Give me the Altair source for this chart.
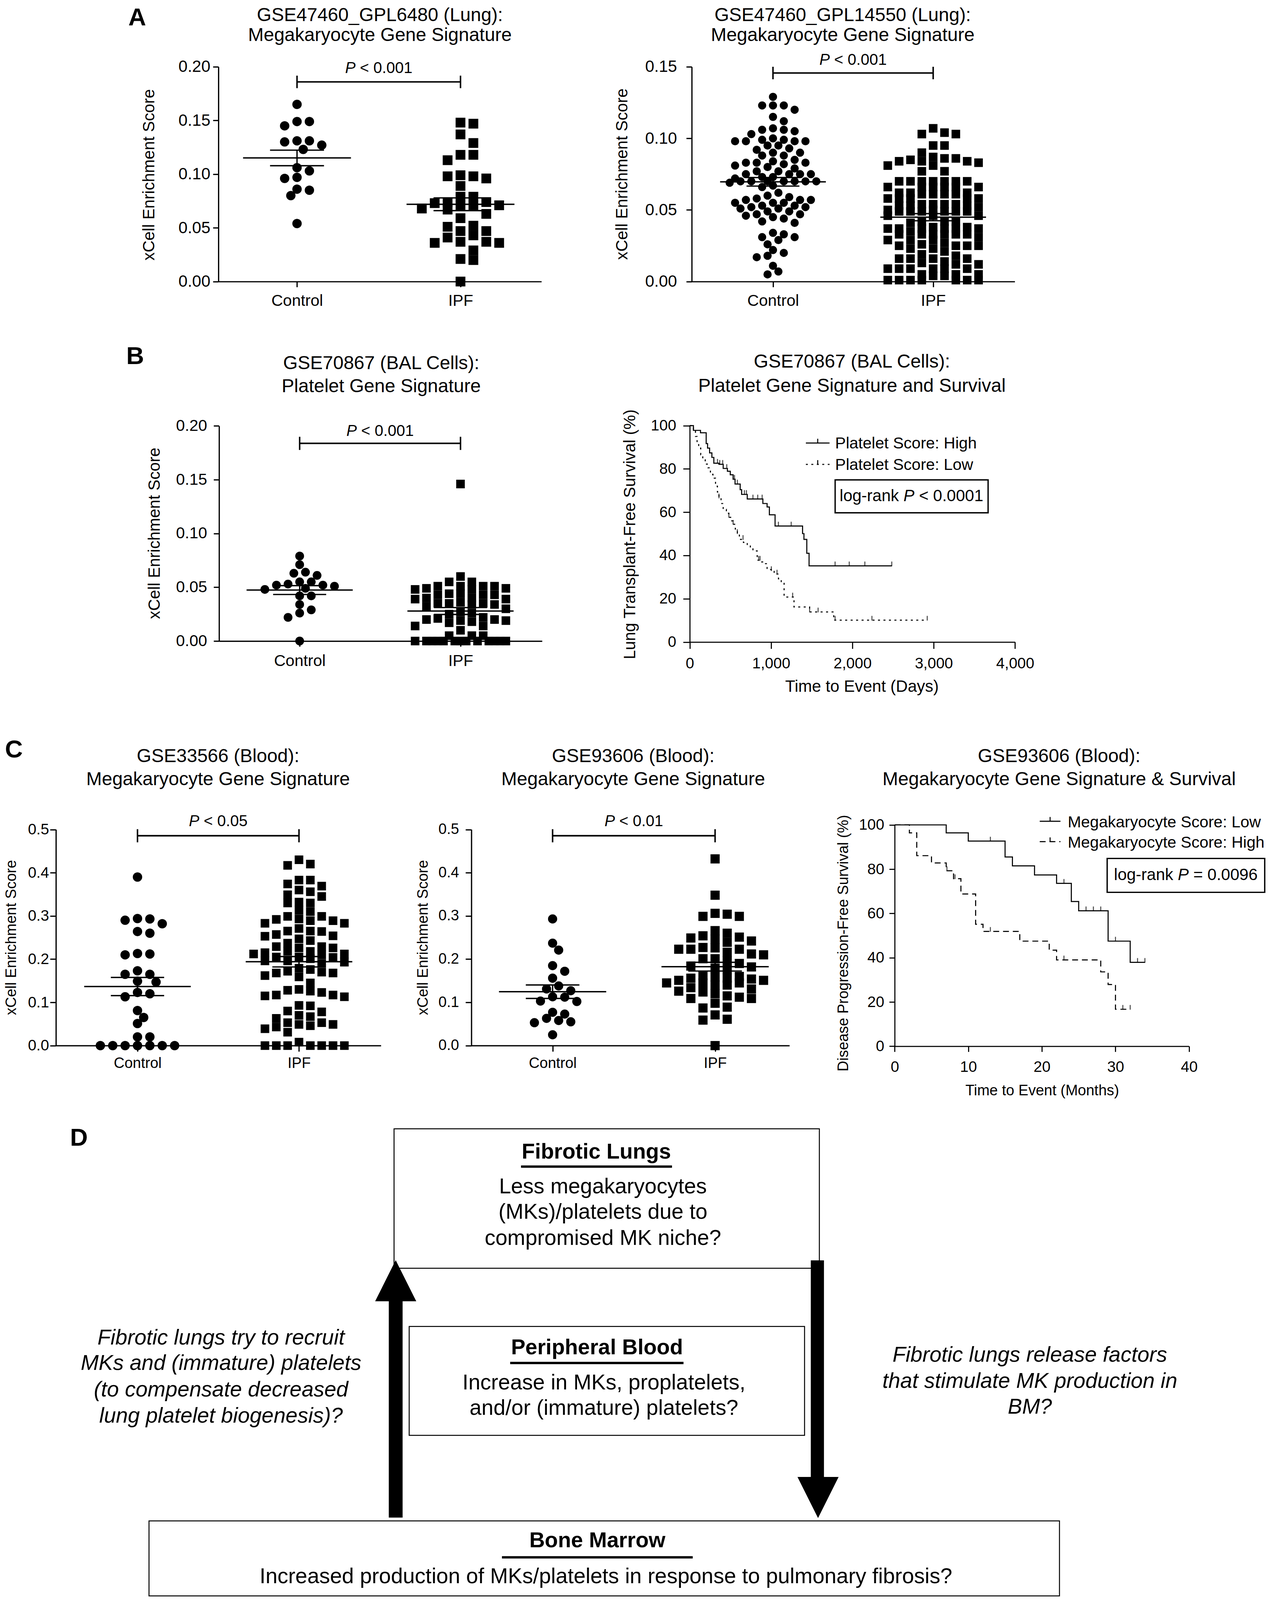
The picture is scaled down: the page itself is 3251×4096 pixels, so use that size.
import altair as alt
import numpy as np
import pandas as pd

S = 0.842
OFF = 8.0
W, H = 3235, 4080
FONT = "Liberation Sans"


def P(v):
    return v * S - OFF


# ------------------------------------------------------------------ data
GROUPS = ["Control", "IPF"]

a1_control = [0.165, 0.149, 0.149, 0.145, 0.131, 0.130, 0.131, 0.127, 0.123,
              0.103, 0.106, 0.096, 0.097, 0.085, 0.086, 0.080, 0.054]
a1_ipf = [0.148, 0.147, 0.137, 0.129, 0.118, 0.118, 0.113, 0.098, 0.096, 0.098,
          0.099, 0.089, 0.079, 0.079, 0.074, 0.070, 0.073, 0.074, 0.067, 0.068,
          0.070, 0.063, 0.071, 0.059, 0.052, 0.051, 0.047, 0.047, 0.043, 0.041,
          0.037, 0.036, 0.036, 0.037, 0.029, 0.021, 0.020, 0.000]

a2_control = [0.129, 0.123, 0.123, 0.123, 0.120, 0.115, 0.112, 0.107, 0.106, 0.105,
              0.106, 0.103, 0.099, 0.098, 0.098, 0.100, 0.098, 0.098, 0.099, 0.095,
              0.095, 0.092, 0.093, 0.090, 0.090, 0.088, 0.088, 0.084, 0.082, 0.083,
              0.083, 0.083, 0.081, 0.085, 0.079, 0.080, 0.077, 0.077, 0.075, 0.075,
              0.073, 0.073, 0.075, 0.075, 0.072, 0.070, 0.070, 0.070, 0.070, 0.070,
              0.070, 0.069, 0.070, 0.066, 0.067, 0.062, 0.060, 0.058, 0.059, 0.057,
              0.057, 0.055, 0.055, 0.057, 0.055, 0.053, 0.053, 0.052, 0.051, 0.052,
              0.051, 0.049, 0.049, 0.047, 0.047, 0.046, 0.045, 0.044, 0.042, 0.041,
              0.034, 0.033, 0.031, 0.031, 0.029, 0.026, 0.022, 0.020, 0.018, 0.017,
              0.011, 0.007, 0.005]
a2_ipf = [0.107, 0.104, 0.103, 0.103, 0.095, 0.095, 0.090, 0.084, 0.083, 0.085,
          0.086, 0.087, 0.086, 0.084, 0.084, 0.081, 0.081, 0.077, 0.077, 0.070,
          0.070, 0.070, 0.070, 0.070, 0.070, 0.070, 0.066, 0.066, 0.066, 0.066,
          0.066, 0.066, 0.061, 0.061, 0.062, 0.062, 0.062, 0.061, 0.061, 0.058,
          0.058, 0.058, 0.058, 0.058, 0.053, 0.054, 0.054, 0.053, 0.054, 0.054,
          0.053, 0.052, 0.049, 0.049, 0.049, 0.050, 0.049, 0.049, 0.049, 0.050,
          0.046, 0.046, 0.046, 0.042, 0.041, 0.042, 0.042, 0.037, 0.037, 0.037,
          0.038, 0.037, 0.037, 0.037, 0.038, 0.035, 0.033, 0.033, 0.033, 0.033,
          0.033, 0.033, 0.031, 0.029, 0.029, 0.029, 0.027, 0.025, 0.025, 0.025,
          0.025, 0.026, 0.023, 0.023, 0.021, 0.019, 0.018, 0.016, 0.016, 0.016,
          0.016, 0.014, 0.013, 0.012, 0.012, 0.009, 0.009, 0.009, 0.009, 0.009,
          0.009, 0.005, 0.005, 0.005, 0.004, 0.004, 0.001, 0.001, 0.001, 0.001,
          0.001, 0.001, 0.001]

b1_control = [0.079, 0.071, 0.063, 0.064, 0.061, 0.052, 0.051, 0.055, 0.055, 0.048,
              0.049, 0.052, 0.053, 0.042, 0.042, 0.034, 0.029, 0.026, 0.022, 0.000]
b1_ipf = [0.146, 0.060, 0.055, 0.055, 0.051, 0.049, 0.048, 0.051, 0.051, 0.048,
          0.049, 0.051, 0.043, 0.044, 0.043, 0.044, 0.043, 0.039, 0.040, 0.039,
          0.040, 0.035, 0.034, 0.035, 0.035, 0.034, 0.036, 0.032, 0.030, 0.026,
          0.025, 0.027, 0.020, 0.019, 0.018, 0.022, 0.021, 0.017, 0.019, 0.020,
          0.014, 0.014, 0.010, 0.005, 0.005, 0.005, 0.0, 0.0, 0.0, 0.0, 0.0, 0.0,
          0.0, 0.0, 0.0, 0.0, 0.0, 0.0, 0.0]

c1_control = [0.390, 0.294, 0.290, 0.293, 0.282, 0.264, 0.260, 0.213, 0.210, 0.212,
              0.165, 0.165, 0.173, 0.149, 0.147, 0.123, 0.120, 0.113, 0.081, 0.065,
              0.051, 0.020, 0.020, 0.0, 0.0, 0.0, 0.0, 0.0, 0.0, 0.0]
c1_ipf = [0.430, 0.417, 0.420, 0.369, 0.374, 0.383, 0.383, 0.356, 0.360, 0.345,
          0.349, 0.330, 0.332, 0.330, 0.313, 0.310, 0.293, 0.289, 0.299, 0.299,
          0.289, 0.292, 0.283, 0.283, 0.271, 0.265, 0.257, 0.253, 0.264, 0.254,
          0.265, 0.243, 0.247, 0.237, 0.226, 0.226, 0.229, 0.229, 0.218, 0.212,
          0.212, 0.215, 0.218, 0.205, 0.205, 0.210, 0.204, 0.193, 0.196, 0.196,
          0.201, 0.190, 0.172, 0.168, 0.162, 0.179, 0.159, 0.168, 0.170, 0.176,
          0.145, 0.130, 0.126, 0.117, 0.115, 0.113, 0.117, 0.123, 0.128, 0.093,
          0.092, 0.080, 0.078, 0.070, 0.067, 0.063, 0.053, 0.049, 0.043, 0.046,
          0.049, 0.053, 0.039, 0.031, 0.0, 0.0, 0.0, 0.008, 0.0, 0.0, 0.0, 0.0]

c2_control = [0.293, 0.237, 0.221, 0.185, 0.172, 0.156, 0.138, 0.127, 0.131, 0.112,
              0.113, 0.102, 0.103, 0.073, 0.077, 0.058, 0.055, 0.053, 0.063, 0.025]
c2_ipf = [0.432, 0.348, 0.304, 0.299, 0.299, 0.306, 0.260, 0.254, 0.266, 0.251,
          0.249, 0.242, 0.246, 0.239, 0.227, 0.223, 0.223, 0.223, 0.226, 0.212,
          0.210, 0.216, 0.201, 0.201, 0.196, 0.190, 0.176, 0.182, 0.179, 0.184,
          0.156, 0.159, 0.162, 0.156, 0.160, 0.145, 0.151, 0.154, 0.151, 0.145,
          0.140, 0.134, 0.131, 0.140, 0.145, 0.124, 0.126, 0.115, 0.120, 0.112,
          0.109, 0.109, 0.098, 0.087, 0.089, 0.071, 0.061, 0.059, 0.000]

# Kaplan-Meier, GSE70867 (days, % survival after each step)
b2_high_t = [0, 45, 132, 202, 219, 244, 272, 296, 359, 411, 463, 498, 533, 557, 620,
             638, 707, 899, 951, 979, 1049, 1387, 1404, 1439, 1467, 2484]
b2_high_s = [100, 97.8, 96.7, 91.7, 89.6, 87.4, 85.3, 82.6, 82.1, 80.2, 78.9, 77.3,
             75.2, 73.0, 70.4, 68.2, 66.1, 64.0, 62.4, 58.8, 53.6, 50.1, 47.4, 41.0,
             35.2, 35.2]
b2_high_cens = [341, 369, 405, 455, 550, 585, 672, 697, 777, 836, 890, 1090, 1247,
                1787, 1961, 2153, 2484]
b2_low_t = [0, 45, 70, 90, 110, 135, 160, 190, 225, 254, 285, 317, 340, 359, 385, 411,
            450, 481, 510, 533, 560, 585, 610, 660, 707, 745, 777, 829, 870, 916, 951,
            1003, 1038, 1091, 1125, 1160, 1282, 1474, 1770, 2920]
b2_low_s = [100, 98.1, 95.0, 92.0, 89.6, 86.5, 84.2, 82.2, 80.5, 77.5, 75.7, 72.0,
            69.3, 66.6, 64.0, 61.3, 59.5, 57.6, 56.0, 54.4, 52.2, 50.1, 47.4, 46.0,
            44.8, 43.5, 42.1, 37.8, 37.0, 36.2, 33.5, 33.0, 31.4, 29.2, 27.6, 20.8,
            16.2, 13.9, 10.1, 10.1]
b2_low_cens = [359, 481, 533, 585, 655, 847, 864, 1003, 1073, 1265, 1474, 1578, 1787,
               2240, 2920]

# Kaplan-Meier, GSE93606 (months)
c3_low_t = [0, 7, 10, 15, 16, 19, 22, 24, 25, 29, 32, 34]
c3_low_s = [100, 96.4, 92.7, 85.5, 81.5, 77.4, 73.6, 65.4, 61.2, 47.5, 37.9, 37.9]
c3_low_cens = [13, 23, 26, 27, 28, 30, 33, 34]
c3_high_t = [0, 2, 3, 5, 7, 8, 9, 11, 12, 17, 21, 22, 28, 29, 30, 32]
c3_high_s = [100, 96.4, 86.1, 82.8, 79.3, 75.7, 68.8, 55.1, 51.9, 47.5, 43.4, 39.0,
             33.6, 27.9, 16.7, 16.7]
c3_high_cens = [7.1, 8.2, 13, 23, 31, 32]

# ------------------------------------------------------------------ helpers
AW = {c: 0.556 for c in "0123456789"}
AW.update({'.': 0.278, ' ': 0.278, ',': 0.278, '<': 0.584, '=': 0.584, 'P': 0.667,
           '-': 0.333, 'l': 0.222, 'o': 0.556, 'g': 0.556, 'r': 0.333, 'a': 0.556,
           'n': 0.556, 'k': 0.5})


def tw(s, size):
    return sum(AW.get(ch, 0.556) for ch in s) * size


def text_layer(rows, size, weight="normal", style="normal", align="center"):
    df = pd.DataFrame(rows, columns=["t", "x", "y"])
    return alt.Chart(df).mark_text(
        font=FONT, fontSize=size, fontWeight=weight, fontStyle=style, align=align,
        baseline="alphabetic", color="black").encode(
        x=alt.X("x:Q", scale=None, axis=None),
        y=alt.Y("y:Q", scale=None, axis=None),
        text="t:N")


def mixed_text(pieces, cx, y, size):
    """pieces: list of (text, italic); returns layers centred on cx (pixels)."""
    widths = [tw(t, size) for t, _ in pieces]
    x = cx - sum(widths) / 2.0
    rn, ri = [], []
    for (t, it), w in zip(pieces, widths):
        (ri if it else rn).append((t.strip(), x, y))
        x += w
    out = []
    if rn:
        out.append(text_layer(rn, size, align="left"))
    if ri:
        out.append(text_layer(ri, size, style="italic", align="left"))
    return out


def swarm(vals, center, ux, uy, diam, max_half, square):
    v = np.asarray(vals, float)
    order = np.argsort(-v, kind="stable")
    step = diam * 0.66
    kmax = max(1, int(max_half * ux / step))
    cands = [0]
    for k in range(1, kmax + 1):
        cands += [k, -k]
    px, py = [], []
    off = np.zeros(len(v))
    thr = diam * 0.92
    for idx in order:
        y = v[idx] * uy
        best, bestd, fallback = None, -1.0, 0.0
        for c in cands:
            x = c * step
            if px:
                dx = np.abs(np.array(px) - x)
                dy = np.abs(np.array(py) - y)
                dist = np.maximum(dx, dy) if square else np.hypot(dx, dy)
                d = dist.min()
            else:
                d = np.inf
            if d >= thr:
                best = x
                break
            if d > bestd:
                bestd, fallback = d, x
        if best is None:
            best = fallback
        px.append(best)
        py.append(y)
        off[idx] = best
    return center + off / ux


AX = dict(domainColor="black", tickColor="black", labelColor="black",
          titleColor="black", grid=False, labelFont=FONT, titleFont=FONT,
          titleFontWeight="normal", labelFlush=False, labelOverlap=False)

layers = []


def scatter_panel(cfg, ctrl, ipf):
    span = cfg["ix"] - cfg["cx"]
    xdom = [(cfg["left"] - cfg["cx"]) / span, (cfg["right"] - cfg["cx"]) / span]
    xsc = alt.Scale(domain=xdom, range=[P(cfg["left"]), P(cfg["right"])],
                    nice=False, zero=False)
    ysc = alt.Scale(domain=[0, cfg["ymax"]], range=[P(cfg["bottom"]), P(cfg["top"])],
                    nice=False, zero=False)
    ux = span * S
    uy = (cfg["bottom"] - cfg["top"]) * S / cfg["ymax"]

    xaxis = alt.Axis(orient="bottom", offset=P(cfg["bottom"]) - H, values=[0, 1],
                     labelExpr="datum.value == 0 ? 'Control' : 'IPF'", title=None,
                     labelFontSize=cfg["xlab"], labelPadding=cfg["xpad"],
                     tickSize=cfg["tick"], domainWidth=3.2, tickWidth=3.2, **AX)
    yaxis = alt.Axis(orient="left", offset=-P(cfg["left"]), values=cfg["yticks"],
                     format=cfg["fmt"], title="xCell Enrichment Score",
                     titleFontSize=cfg["ytitle"],
                     titleX=P(cfg["ytx"]) - P(cfg["left"]), titleY=P(cfg["yty"]),
                     titleAngle=270, titleAlign="center", titleBaseline="middle",
                     labelFontSize=cfg["lab"], labelPadding=cfg["ypad"],
                     tickSize=cfg["tick"], domainWidth=3.2, tickWidth=3.2, **AX)

    dfc = pd.DataFrame({"pos": swarm(ctrl, 0, ux, uy, cfg["dc"], 0.3, False), "val": ctrl})
    dfi = pd.DataFrame({"pos": swarm(ipf, 1, ux, uy, cfg["ds"], 0.3, True), "val": ipf})
    layers.append(alt.Chart(dfc).mark_point(
        shape="circle", filled=True, size=cfg["dc"] ** 2, color="black", opacity=1,
        strokeWidth=0).encode(
        x=alt.X("pos:Q", scale=xsc, axis=xaxis),
        y=alt.Y("val:Q", scale=ysc, axis=yaxis)))
    layers.append(alt.Chart(dfi).mark_point(
        shape="square", filled=True, size=cfg["ds"] ** 2, color="black", opacity=1,
        strokeWidth=0).encode(
        x=alt.X("pos:Q", scale=xsc, axis=None),
        y=alt.Y("val:Q", scale=ysc, axis=None)))

    # mean +/- SEM
    segs = []
    for g, vals in ((0, ctrl), (1, ipf)):
        v = np.asarray(vals, float)
        m = v.mean()
        se = v.std(ddof=1) / np.sqrt(len(v))
        segs += [(g - 0.33, g + 0.33, m, m),
                 (g - 0.165, g + 0.165, m + se, m + se),
                 (g - 0.165, g + 0.165, m - se, m - se),
                 (g, g, m - se, m + se)]
    dfs = pd.DataFrame(segs, columns=["x1", "x2", "y1", "y2"])
    layers.append(alt.Chart(dfs).mark_rule(color="black", strokeWidth=3.4).encode(
        x=alt.X("x1:Q", scale=xsc, axis=None), x2="x2:Q",
        y=alt.Y("y1:Q", scale=ysc, axis=None), y2="y2:Q"))

    # significance bracket
    def ydata(pix):
        return (cfg["bottom"] - pix) / (cfg["bottom"] - cfg["top"]) * cfg["ymax"]
    br, h = cfg["br"], cfg["brh"]
    bsegs = [(0, 1, ydata(br), ydata(br)),
             (0, 0, ydata(br - h), ydata(br + h)),
             (1, 1, ydata(br - h), ydata(br + h))]
    dfb = pd.DataFrame(bsegs, columns=["x1", "x2", "y1", "y2"])
    layers.append(alt.Chart(dfb).mark_rule(color="black", strokeWidth=3.8).encode(
        x=alt.X("x1:Q", scale=xsc, axis=None), x2="x2:Q",
        y=alt.Y("y1:Q", scale=ysc, axis=None), y2="y2:Q"))
    cxp = (P(cfg["cx"]) + P(cfg["ix"])) / 2.0
    layers.extend(mixed_text([("P ", True), (cfg["ptxt"], False)], cxp, P(cfg["pt"]), 40))


def km_panel(cfg, curves):
    xsc = alt.Scale(domain=[0, cfg["xmax"]], range=[P(cfg["left"]), P(cfg["right"])],
                    nice=False, zero=False)
    ysc = alt.Scale(domain=[0, 100], range=[P(cfg["bottom"]), P(cfg["top"])],
                    nice=False, zero=False)
    xaxis = alt.Axis(orient="bottom", offset=P(cfg["bottom"]) - H, values=cfg["xticks"],
                     format=cfg["fmt"], title=cfg["xtitle"], titleFontSize=cfg["tsize"],
                     titleX=P(cfg["xtx"]), titleY=P(cfg["xty"]) - P(cfg["bottom"]),
                     titleAlign="center", titleBaseline="alphabetic", titleAngle=0,
                     labelFontSize=cfg["lab"], labelPadding=cfg["xpad"],
                     tickSize=cfg["tick"], domainWidth=2.8, tickWidth=2.8, **AX)
    yaxis = alt.Axis(orient="left", offset=-P(cfg["left"]), values=[0, 20, 40, 60, 80, 100],
                     format="d", title=cfg["ytitle"], titleFontSize=cfg["tsize"],
                     titleX=P(cfg["ytx"]) - P(cfg["left"]), titleY=P(cfg["yty"]),
                     titleAngle=270, titleAlign="center", titleBaseline="middle",
                     labelFontSize=cfg["lab"], labelPadding=cfg["ypad"],
                     tickSize=cfg["tick"], domainWidth=2.8, tickWidth=2.8, **AX)
    first = True
    for t, s, cens, dash in curves:
        dfl = pd.DataFrame({"t": t, "s": s})
        mk = dict(interpolate="step-after", color="black", strokeWidth=2.7)
        if dash:
            mk["strokeDash"] = dash
        layers.append(alt.Chart(dfl).mark_line(**mk).encode(
            x=alt.X("t:Q", scale=xsc, axis=xaxis if first else None),
            y=alt.Y("s:Q", scale=ysc, axis=yaxis if first else None)))
        first = False
        ta = np.asarray(t, float)
        sa = np.asarray(s, float)
        cs = [sa[max(0, np.searchsorted(ta, c, side="right") - 1)] for c in cens]
        dfc = pd.DataFrame({"t": cens, "s": cs})
        layers.append(alt.Chart(dfc).mark_tick(
            orient="vertical", size=12, thickness=2.6, color="black", yOffset=-5).encode(
            x=alt.X("t:Q", scale=xsc, axis=None),
            y=alt.Y("s:Q", scale=ysc, axis=None)))


def rules_px(rows, width, dash=None):
    df = pd.DataFrame(rows, columns=["x1", "x2", "y1", "y2"])
    mk = dict(color="black", strokeWidth=width)
    if dash:
        mk["strokeDash"] = dash
    return alt.Chart(df).mark_rule(**mk).encode(
        x=alt.X("x1:Q", scale=None, axis=None), x2="x2:Q",
        y=alt.Y("y1:Q", scale=None, axis=None), y2="y2:Q")


def boxes_px(rows, width):
    df = pd.DataFrame(rows, columns=["x1", "x2", "y1", "y2"])
    return alt.Chart(df).mark_rect(fillOpacity=0, stroke="black", strokeWidth=width).encode(
        x=alt.X("x1:Q", scale=None, axis=None), x2="x2:Q",
        y=alt.Y("y1:Q", scale=None, axis=None), y2="y2:Q")


def legend_item(x1, x2, y, dash, tx, ty, label):
    out = [rules_px([(P(x1), P(x2), P(y), P(y))], 2.7, dash)]
    xm = P((x1 + x2) / 2.0)
    out.append(rules_px([(xm, xm, P(y) - 11, P(y))], 2.6))
    out.append(text_layer([(label, P(tx), P(ty))], 41, align="left"))
    return out


# ------------------------------------------------------------------ panels
YT2 = [0, 0.05, 0.1, 0.15, 0.2]
scatter_panel(dict(left=664, right=1646, top=203, bottom=856, cx=903, ix=1400, ymax=0.2,
                   yticks=YT2, fmt=".2f", dc=24, ds=25, br=249, brh=19, pt=222,
                   ptxt="< 0.001", ytx=453, yty=531, lab=42, xlab=41, ytitle=42,
                   tick=14, xpad=16, ypad=7), a1_control, a1_ipf)
scatter_panel(dict(left=2103, right=3085, top=203, bottom=856, cx=2350, ix=2837,
                   ymax=0.15, yticks=[0, 0.05, 0.1, 0.15], fmt=".2f", dc=21, ds=22,
                   br=222, brh=19, pt=197, ptxt="< 0.001", ytx=1891, yty=529, lab=42,
                   xlab=41, ytitle=42, tick=14, xpad=16, ypad=24), a2_control, a2_ipf)
scatter_panel(dict(left=666, right=1648, top=1295, bottom=1949, cx=911, ix=1400,
                   ymax=0.2, yticks=YT2, fmt=".2f", dc=22.5, ds=22, br=1348, brh=20,
                   pt=1325, ptxt="< 0.001", ytx=470, yty=1621, lab=41, xlab=41,
                   ytitle=42, tick=14, xpad=17, ypad=17), b1_control, b1_ipf)
YT5 = [0, 0.1, 0.2, 0.3, 0.4, 0.5]
scatter_panel(dict(left=170, right=1158, top=2522, bottom=3179, cx=418, ix=909,
                   ymax=0.5, yticks=YT5, fmt=".1f", dc=24, ds=22, br=2541, brh=20,
                   pt=2512, ptxt="< 0.05", ytx=35, yty=2850, lab=39, xlab=38,
                   ytitle=38, tick=15, xpad=12, ypad=3), c1_control, c1_ipf)
scatter_panel(dict(left=1433, right=2400, top=2522, bottom=3179, cx=1680, ix=2174,
                   ymax=0.5, yticks=YT5, fmt=".1f", dc=23.5, ds=23.5, br=2541, brh=20,
                   pt=2512, ptxt="< 0.01", ytx=1287, yty=2850, lab=38, xlab=38,
                   ytitle=38, tick=15, xpad=12, ypad=17), c2_control, c2_ipf)

km_panel(dict(left=2097, right=3086, top=1294, bottom=1952, xmax=4000,
              xticks=[0, 1000, 2000, 3000, 4000], fmt=",d",
              xtitle="Time to Event (Days)", xtx=2620, xty=2103,
              ytitle="Lung Transplant-Free Survival (%)", ytx=1915, yty=1624,
              tsize=42, lab=39, tick=17, xpad=19, ypad=18),
         [(b2_high_t, b2_high_s, b2_high_cens, None),
          (b2_low_t, b2_low_s, b2_low_cens, [5, 9])])
km_panel(dict(left=2720, right=3615, top=2508, bottom=3181, xmax=40,
              xticks=[0, 10, 20, 30, 40], fmt="d",
              xtitle="Time to Event (Months)", xtx=3168, xty=3329,
              ytitle="Disease Progression-Free Survival (%)", ytx=2565, yty=2867,
              tsize=38, lab=39, tick=14, xpad=20, ypad=13),
         [(c3_low_t, c3_low_s, c3_low_cens, None),
          (c3_high_t, c3_high_s, c3_high_cens, [15, 10])])

# KM legends and log-rank boxes
layers += legend_item(2450, 2522, 1347, None, 2539, 1363, "Platelet Score: High")
layers += legend_item(2450, 2522, 1412, [5, 9], 2539, 1429, "Platelet Score: Low")
layers += legend_item(3161, 3224, 2497, None, 3246, 2515, "Megakaryocyte Score: Low")
layers += legend_item(3161, 3224, 2559, [15, 10], 3246, 2577, "Megakaryocyte Score: High")
layers.append(boxes_px([(P(2539), P(3004), P(1459), P(1559)),
                        (P(3366), P(3845), P(2610), P(2713))], 3.4))
layers += mixed_text([("log-rank ", False), ("P ", True), ("< 0.0001", False)],
                     P(2771), P(1524), 42)
layers += mixed_text([("log-rank ", False), ("P ", True), ("= 0.0096", False)],
                     P(3605), P(2676), 42)

# panel titles
titles = [("GSE47460_GPL6480 (Lung):", 1155, 64), ("Megakaryocyte Gene Signature", 1155, 125),
          ("GSE47460_GPL14550 (Lung):", 2562, 64), ("Megakaryocyte Gene Signature", 2562, 125),
          ("GSE70867 (BAL Cells):", 1159, 1122), ("Platelet Gene Signature", 1159, 1192),
          ("GSE70867 (BAL Cells):", 2590, 1118),
          ("Platelet Gene Signature and Survival", 2590, 1191),
          ("GSE33566 (Blood):", 663, 2317), ("Megakaryocyte Gene Signature", 663, 2387),
          ("GSE93606 (Blood):", 1925, 2317), ("Megakaryocyte Gene Signature", 1925, 2387),
          ("GSE93606 (Blood):", 3220, 2317),
          ("Megakaryocyte Gene Signature & Survival", 3220, 2387)]
layers.append(text_layer([(t, P(x), P(y)) for t, x, y in titles], 48))
letters = [("A", 390, 77), ("B", 384, 1107), ("C", 15, 2303), ("D", 213, 3483)]
layers.append(text_layer([(t, P(x), P(y)) for t, x, y in letters], 63, weight="bold",
                         align="left"))

# ------------------------------------------------------------------ panel D diagram
layers.append(boxes_px([(P(1198), P(2491), P(3432), P(3856)),
                        (P(1244), P(2446), P(4033), P(4364)),
                        (P(453), P(3221), P(4624), P(4852))], 2.5))
layers.append(rules_px([(P(1584), P(2043), P(3547), P(3547)),
                        (P(1551), P(2078), P(4144), P(4144)),
                        (P(1526), P(2106), P(4735), P(4735))], 6))
shafts = pd.DataFrame({"x1": [P(1182), P(2465)], "x2": [P(1224), P(2505)],
                       "y1": [P(3945), P(3832)], "y2": [P(4614), P(4500)]})
layers.append(alt.Chart(shafts).mark_rect(color="black").encode(
    x=alt.X("x1:Q", scale=None, axis=None), x2="x2:Q",
    y=alt.Y("y1:Q", scale=None, axis=None), y2="y2:Q"))
head_size = (125 * S) ** 2
layers.append(alt.Chart(pd.DataFrame({"x": [P(1203)], "y": [P(3894)]})).mark_point(
    shape="M-1,1L1,1L0,-1Z", filled=True, size=head_size, color="black", opacity=1,
    strokeWidth=0).encode(x=alt.X("x:Q", scale=None, axis=None),
                          y=alt.Y("y:Q", scale=None, axis=None)))
layers.append(alt.Chart(pd.DataFrame({"x": [P(2487)], "y": [P(4553)]})).mark_point(
    shape="M-1,-1L1,-1L0,1Z", filled=True, size=head_size, color="black", opacity=1,
    strokeWidth=0).encode(x=alt.X("x:Q", scale=None, axis=None),
                          y=alt.Y("y:Q", scale=None, axis=None)))

d_bold = [("Fibrotic Lungs", 1813, 3522), ("Peripheral Blood", 1815, 4118),
          ("Bone Marrow", 1816, 4704)]
d_norm = [("Less megakaryocytes", 1833, 3628), ("(MKs)/platelets due to", 1833, 3706),
          ("compromised MK niche?", 1833, 3785),
          ("Increase in MKs, proplatelets,", 1836, 4224),
          ("and/or (immature) platelets?", 1836, 4302),
          ("Increased production of MKs/platelets in response to pulmonary fibrosis?",
           1842, 4813)]
d_ital = [("Fibrotic lungs try to recruit", 672, 4088),
          ("MKs and (immature) platelets", 672, 4165),
          ("(to compensate decreased", 672, 4246),
          ("lung platelet biogenesis)?", 672, 4326),
          ("Fibrotic lungs release factors", 3131, 4140),
          ("that stimulate MK production in", 3131, 4220),
          ("BM?", 3131, 4298)]
layers.append(text_layer([(t, P(x), P(y)) for t, x, y in d_bold], 55, weight="bold"))
layers.append(text_layer([(t, P(x), P(y)) for t, x, y in d_norm], 55))
layers.append(text_layer([(t, P(x), P(y)) for t, x, y in d_ital], 55, style="italic"))

# ------------------------------------------------------------------ assemble
chart = alt.layer(*layers).resolve_scale(
    x="independent", y="independent").resolve_axis(
    x="independent", y="independent").properties(
    width=W, height=H, autosize=alt.AutoSizeParams(type="none"), padding=0,
    background="white").configure_view(stroke=None)

chart.save("out.html", embed_options={"renderer": "svg", "actions": False})
